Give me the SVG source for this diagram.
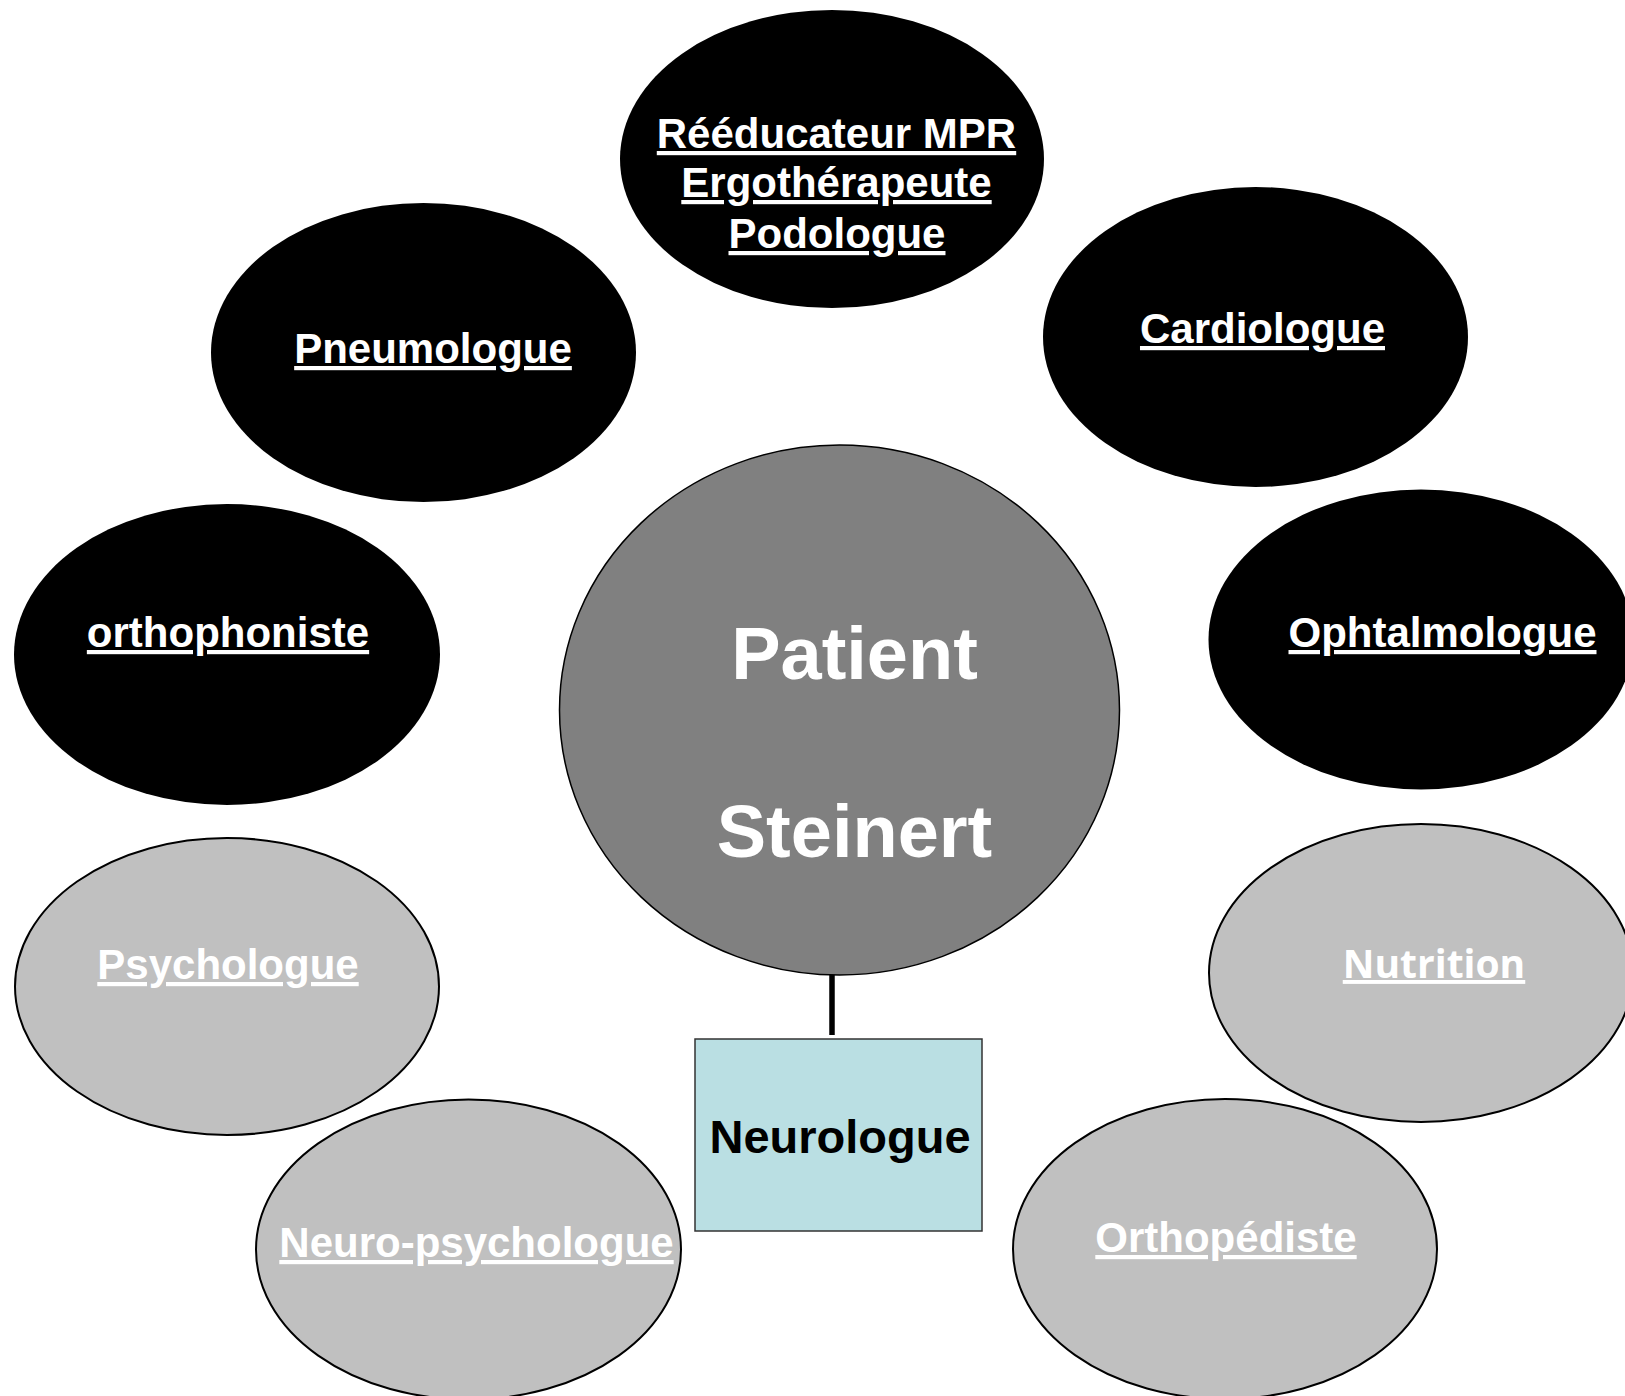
<svg xmlns="http://www.w3.org/2000/svg" width="1625" height="1396" viewBox="0 0 1625 1396">
  <style>
    .dark { fill: #000000; stroke: none; }
    .light { fill: #C0C0C0; stroke: #000000; stroke-width: 2; }
    .lbl { font-family: "Liberation Sans", Arial, sans-serif; font-weight: bold; font-size: 42px; fill: #ffffff; text-anchor: middle; text-decoration: underline; }
    .nut { font-family: "Open Sans", "Liberation Sans", sans-serif; font-weight: bold; font-size: 39px; fill: #ffffff; text-anchor: middle; text-decoration: underline; }
    .center { fill: #808080; stroke: #000000; stroke-width: 1.5; }
    .big { font-family: "Liberation Sans", Arial, sans-serif; font-weight: bold; font-size: 74px; fill: #ffffff; text-anchor: middle; }
    .box { fill: #BADFE3; stroke: #333333; stroke-width: 1.5; }
    .boxlbl { font-family: "Liberation Sans", Arial, sans-serif; font-weight: bold; font-size: 47px; fill: #000000; text-anchor: middle; }
    .link { stroke: #000000; stroke-width: 5.5; fill: none; }
  </style>

  <!-- connector between patient and neurologist -->
  <g id="connectors">
    <line class="link" x1="832" y1="974" x2="832" y2="1035"/>
  </g>

  <g id="node-reeducation">
    <ellipse class="dark" cx="832" cy="159" rx="212" ry="149"/>
    <text class="lbl" x="836.5" y="148">Rééducateur MPR</text>
    <text class="lbl" x="836.5" y="197">Ergothérapeute</text>
    <text class="lbl" x="837" y="248">Podologue</text>
  </g>

  <g id="node-pneumologue">
    <ellipse class="dark" cx="423.5" cy="352.5" rx="212.5" ry="149.5"/>
    <text class="lbl" x="433" y="363">Pneumologue</text>
  </g>

  <g id="node-cardiologue">
    <ellipse class="dark" cx="1255.5" cy="337" rx="212.5" ry="150"/>
    <text class="lbl" x="1262.5" y="343">Cardiologue</text>
  </g>

  <g id="node-orthophoniste">
    <ellipse class="dark" cx="227" cy="654.5" rx="213" ry="150.5"/>
    <text class="lbl" x="228" y="647">orthophoniste</text>
  </g>

  <g id="node-ophtalmologue">
    <ellipse class="dark" cx="1421" cy="639.5" rx="212.5" ry="150"/>
    <text class="lbl" x="1442.5" y="647">Ophtalmologue</text>
  </g>

  <g id="node-patient">
    <ellipse class="center" cx="839.5" cy="710" rx="280" ry="265"/>
    <text class="big" x="854.5" y="679">Patient</text>
    <text class="big" x="854.5" y="857">Steinert</text>
  </g>

  <g id="node-psychologue">
    <ellipse class="light" cx="227" cy="986.5" rx="212" ry="148.5"/>
    <text class="lbl" x="228" y="979">Psychologue</text>
  </g>

  <g id="node-nutrition">
    <ellipse class="light" cx="1421" cy="973" rx="212" ry="149"/>
    <text class="nut" x="1434" y="978">Nutrition</text>
  </g>

  <g id="node-neurologue">
    <rect class="box" x="695" y="1039" width="287" height="192"/>
    <text class="boxlbl" x="840" y="1153">Neurologue</text>
  </g>

  <g id="node-neuropsychologue">
    <ellipse class="light" cx="468.5" cy="1249.5" rx="212.5" ry="150"/>
    <text class="lbl" x="476.5" y="1257">Neuro-psychologue</text>
  </g>

  <g id="node-orthopediste">
    <ellipse class="light" cx="1225" cy="1249" rx="212" ry="150"/>
    <text class="lbl" x="1226" y="1252">Orthopédiste</text>
  </g>
</svg>
